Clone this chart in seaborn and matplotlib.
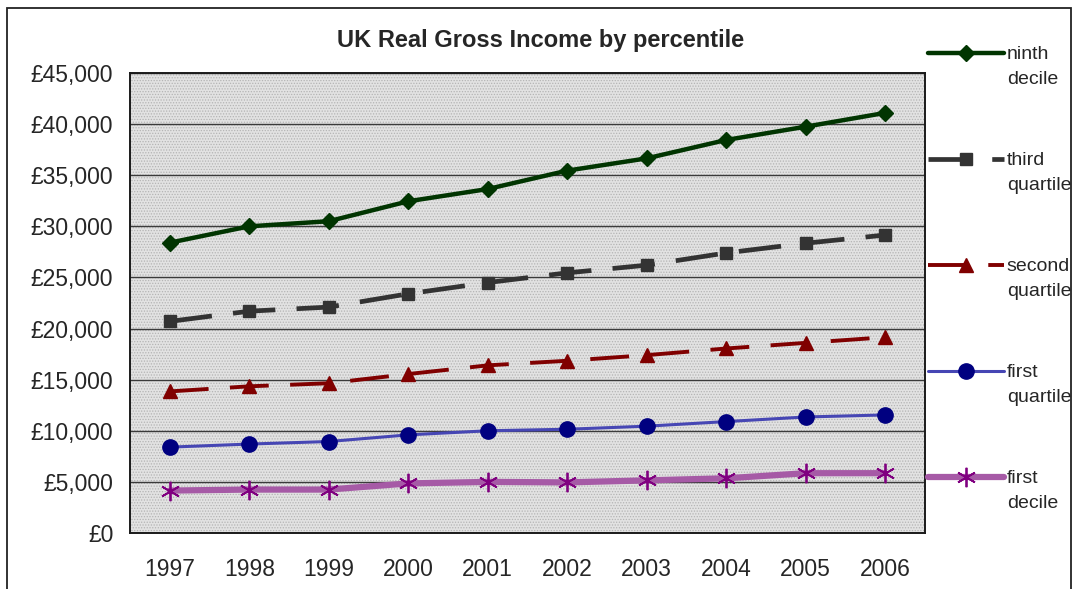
import matplotlib
matplotlib.use("Agg")
import matplotlib.pyplot as plt
import matplotlib.patches as mpatches
import matplotlib.transforms as mtransforms
from matplotlib.legend_handler import HandlerLine2D
from matplotlib.ticker import FixedLocator, FuncFormatter
import numpy as np
import pandas as pd
import seaborn as sns

# Income by percentile, £ per year (real terms)
years = ["1997", "1998", "1999", "2000", "2001", "2002", "2003", "2004", "2005", "2006"]
ninth_decile = [28400, 30000, 30500, 32450, 33650, 35450, 36650, 38450, 39750, 41100]
third_quartile = [20700, 21700, 22100, 23400, 24500, 25450, 26200, 27400, 28350, 29150]
second_quartile = [13850, 14350, 14650, 15550, 16400, 16850, 17400, 18050, 18600, 19150]
first_quartile = [8400, 8700, 8950, 9600, 10000, 10150, 10450, 10900, 11350, 11550]
first_decile = [4150, 4250, 4250, 4850, 5000, 4950, 5150, 5350, 5850, 5850]

series_names = ["ninth\ndecile", "third\nquartile", "second\nquartile",
                "first\nquartile", "first\ndecile"]
series_values = [ninth_decile, third_quartile, second_quartile,
                 first_quartile, first_decile]


class FirstLineHandler(HandlerLine2D):
    """Legend line handler that lines the sample up with the label's first line."""

    def __init__(self, shift, **kw):
        super().__init__(**kw)
        self.shift = shift

    def create_artists(self, legend, orig_handle, xdescent, ydescent,
                       width, height, fontsize, trans):
        artists = super().create_artists(legend, orig_handle, xdescent, ydescent,
                                         width, height, fontsize, trans)
        offset = mtransforms.Affine2D().translate(0, self.shift)
        for a in artists:
            a.set_transform(offset + trans)
        return artists


sns.set_theme(style="white")
plt.rcParams["font.family"] = ["Liberation Sans", "DejaVu Sans"]
plt.rcParams["hatch.linewidth"] = 0.6
plt.rcParams["hatch.color"] = "#b4b4b4"

fig = plt.figure(figsize=(10.75, 5.89), dpi=100)
ax = fig.add_axes([130 / 1075, 56 / 589, 795 / 1075, 460 / 589])

# stippled plot-area fill
ax.set_facecolor("#e2e2e2")
ax.patch.set_hatch("......")
ax.patch.set_edgecolor("#b4b4b4")

x_pos = np.arange(len(years))
styles = [
    dict(color="#013501", lw=3.2, ls="-", marker="D", ms=8.5, mec="#013501"),
    dict(color="#333333", lw=3.4, ls=(0, (9, 4.5)), marker="s", ms=9, mec="#333333"),
    dict(color="#800000", lw=2.8, ls=(0, (10, 5.5)), marker="^", ms=10, mec="#800000"),
    dict(color="#4646b4", lw=2.2, ls="-", marker="o", ms=11, mfc="#000080", mec="#000080"),
    dict(color="#a65aa6", lw=4.5, ls="-", marker=(6, 2, 0), ms=14, mec="#800080", mew=1.3),
]

for name, vals, st in zip(series_names, series_values, styles):
    df = pd.DataFrame({"x": x_pos, "y": vals})
    sns.lineplot(data=df, x="x", y="y", ax=ax, label=name, legend=False,
                 color=st["color"], linewidth=st["lw"], linestyle=st["ls"],
                 marker=st["marker"], markersize=st["ms"],
                 markerfacecolor=st.get("mfc", st["color"]),
                 markeredgecolor=st["mec"], markeredgewidth=st.get("mew", 1.0),
                 zorder=3)

ax.set_xlim(-0.5, len(years) - 0.5)
ax.set_ylim(0, 45000)
ax.set_xlabel("")
ax.set_ylabel("")

# y axis: £ labels every 5,000 with horizontal gridlines
ax.yaxis.set_major_locator(FixedLocator(np.arange(0, 45001, 5000)))
ax.yaxis.set_major_formatter(FuncFormatter(lambda v, p: f"£{int(v):,}"))
ax.tick_params(axis="y", which="major", direction="out", length=8, width=1.2,
               color="#333333", labelsize=16.5, pad=4)
ax.grid(axis="y", color="#3a3a3a", linewidth=1.0, zorder=1)
ax.set_axisbelow(True)

# x axis: category labels centred, tick marks between categories
ax.xaxis.set_major_locator(FixedLocator(np.arange(-0.5, len(years), 1.0)))
ax.xaxis.set_major_formatter(FuncFormatter(lambda v, p: ""))
ax.set_xticks(x_pos, minor=True)
ax.set_xticklabels(years, minor=True)
ax.tick_params(axis="x", which="major", direction="out", length=8, width=1.2,
               color="#333333")
ax.tick_params(axis="x", which="minor", length=0, labelsize=16.5, pad=18)

for sp in ax.spines.values():
    sp.set_visible(True)
    sp.set_color("#1a1a1a")
    sp.set_linewidth(1.4)

fig.text(541 / 1075, 1 - 40 / 589, "UK Real Gross Income by percentile",
         ha="center", va="center", fontsize=17, fontweight="bold")

handles, labels = ax.get_legend_handles_labels()
leg = fig.legend(handles, labels, loc="upper left",
                 bbox_to_anchor=(928 / 1075, 1 - 46 / 589),
                 frameon=False, fontsize=14, handlelength=3.9, handletextpad=0.15,
                 labelspacing=3.3, borderpad=0, borderaxespad=0,
                 handler_map={h: FirstLineHandler(10) for h in handles})
plt.setp(leg.get_texts(), linespacing=1.6)

# outer chart border
fig.patches.append(mpatches.Rectangle((7 / 1075, -0.05), 1064 / 1075, 1.05 - 8 / 589,
                                      transform=fig.transFigure, fill=False,
                                      edgecolor="#222222", linewidth=1.3))

fig.savefig("out.png", dpi=100)
